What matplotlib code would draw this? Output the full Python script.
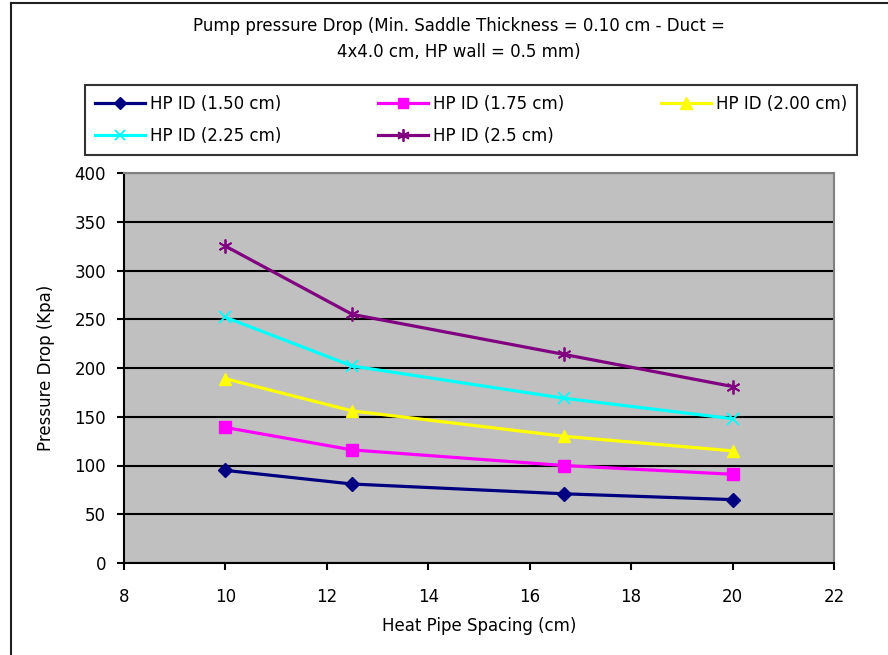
import matplotlib
matplotlib.use("Agg")
import matplotlib.pyplot as plt
from matplotlib.lines import Line2D

plt.rcParams['font.family'] = ['DejaVu Sans']

# Heat pipe spacing (cm)
spacing = [10.0, 12.5, 16.67, 20.0]

# Pressure drop (kPa) for each heat pipe inner diameter
hp_150 = [95, 81, 71, 65]
hp_175 = [139, 116, 100, 91]
hp_200 = [189, 156, 130, 115]
hp_225 = [252, 202, 169, 148]
hp_250 = [325, 255, 214, 181]

series_labels = ["HP ID (1.50 cm)", "HP ID (1.75 cm)", "HP ID (2.00 cm)",
                 "HP ID (2.25 cm)", "HP ID (2.5 cm)"]
x_ticks = [8, 10, 12, 14, 16, 18, 20, 22]
y_ticks = [0, 50, 100, 150, 200, 250, 300, 350, 400]

FS = 12
W, H = 888, 655
fig = plt.figure(figsize=(W / 100, H / 100), dpi=100)
fig.patch.set_facecolor("white")

# chart frame (left and top edges)
fig.add_artist(Line2D([11 / W, 11 / W], [0, 1 - 3 / H], color="#202020", lw=1.5))
fig.add_artist(Line2D([11 / W, 1], [1 - 3 / H, 1 - 3 / H], color="#202020", lw=1.5))

left, right, top, bottom = 124, 834, 173, 563
ax = fig.add_axes([left / W, 1 - bottom / H, (right - left) / W, (bottom - top) / H])
ax.set_facecolor("#C0C0C0")

styles = [
    dict(color="#000080", marker="D", ms=7),
    dict(color="#FF00FF", marker="s", ms=8),
    dict(color="#FFFF00", marker="^", ms=9),
    dict(color="#00FFFF", marker="x", ms=8, mew=1.3),
    dict(color="#800080", marker=(6, 2, 0), ms=10, mew=1.3),
]
series = [hp_150, hp_175, hp_200, hp_225, hp_250]
handles = []
for vals, lab, st in zip(series, series_labels, styles):
    h, = ax.plot(spacing, vals, lw=2.3, label=lab, zorder=3, **st)
    handles.append(h)

ax.set_xlim(8, 22)
ax.set_ylim(0, 400)
ax.set_xticks(x_ticks)
ax.set_yticks(y_ticks)
ax.yaxis.grid(True, color="black", lw=1.5)
ax.set_axisbelow(True)

for s in ("left", "bottom"):
    ax.spines[s].set_color("black")
    ax.spines[s].set_linewidth(1.5)
for s in ("top", "right"):
    ax.spines[s].set_color("#808080")
    ax.spines[s].set_linewidth(1.5)

ax.tick_params(axis="y", direction="out", length=5, width=1.5, pad=8,
               labelsize=FS, colors="black")
ax.tick_params(axis="x", direction="out", length=5, width=1.5, pad=13,
               labelsize=FS, colors="black")

ax.set_xlabel("Heat Pipe Spacing (cm)", fontsize=FS, labelpad=8)
ax.set_ylabel("Pressure Drop (Kpa)", fontsize=FS, labelpad=14)

fig.text(459 / W, 1 - 26 / H,
         "Pump pressure Drop (Min. Saddle Thickness = 0.10 cm - Duct =",
         ha="center", va="center", fontsize=FS)
fig.text(459 / W, 1 - 52 / H, "4x4.0 cm, HP wall = 0.5 mm)",
         ha="center", va="center", fontsize=FS)

# legend entries read row by row across three columns
order = [0, 3, 1, 4, 2]
leg = fig.legend(handles=[handles[i] for i in order], loc="upper left",
                 bbox_to_anchor=(85 / W, 1 - 155 / H, 772 / W, 70 / H),
                 mode="expand", ncol=3, fontsize=FS, frameon=True,
                 fancybox=False, edgecolor="black", handlelength=3.0,
                 handletextpad=0.3, borderaxespad=0, labelspacing=0.85,
                 borderpad=0.6, markerscale=0.9)
leg.get_frame().set_linewidth(1.5)

fig.savefig("out.png", dpi=100)
